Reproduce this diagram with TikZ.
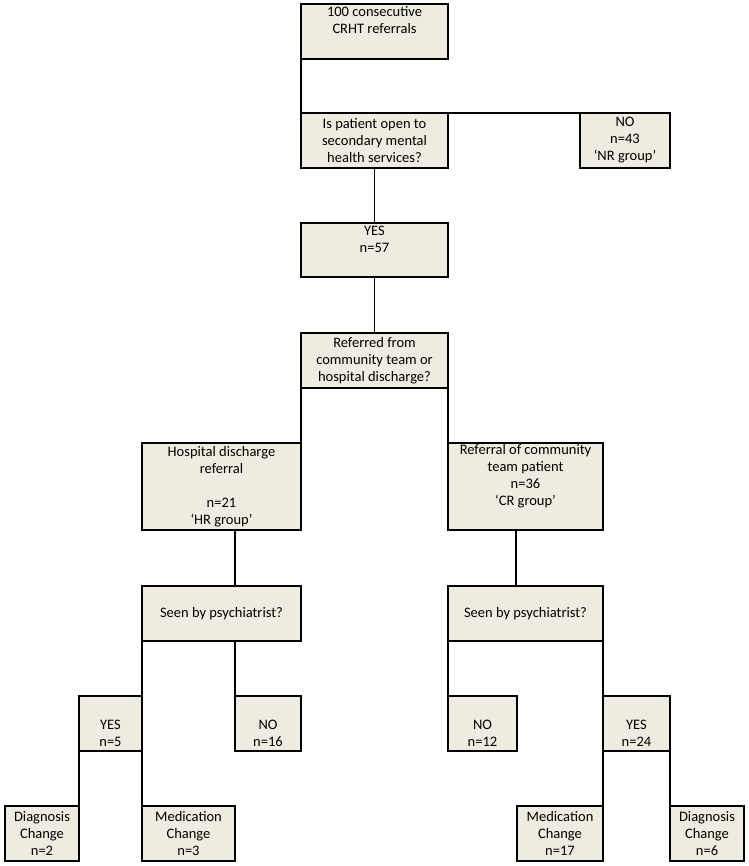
\documentclass[tikz,border=0pt]{standalone}
\usepackage{fontspec}
\setmainfont{Carlito}
\definecolor{boxfill}{HTML}{EEECE1}

\begin{document}
\begin{tikzpicture}[x=1pt, y=-1pt, every node/.style={font=\fontsize{14.5}{17}\selectfont},
    box/.style={rectangle, draw, fill=boxfill, anchor=north west, align=center, inner sep=0pt, outer sep=0pt, line width=1.1pt},
    link/.style={draw, line width=1.1pt}]
    \useasboundingbox (0,0) rectangle (748,866);

    \node[box, minimum width=147pt, minimum height=55pt] (start) at (301,4) {100 consecutive\\CRHT referrals\\\strut};
    \node[box, minimum width=147pt, minimum height=55pt] (open) at (301,113) {Is patient open to\\secondary mental\\health services?};
    \node[box, minimum width=90pt, minimum height=55pt] (nr) at (580,113) {NO\\n=43\\‘NR group’};
    \node[box, minimum width=147pt, minimum height=54pt] (yesopen) at (301,223) {YES\\n=57\\\strut};
    \node[box, minimum width=147pt, minimum height=55pt] (source) at (301,333) {Referred from\\community team or\\hospital discharge?};

    \node[box, minimum width=159pt, minimum height=87pt] (hr) at (142,443) {Hospital discharge\\referral\\\strut\\n=21\\‘HR group’};
    \node[box, minimum width=155pt, minimum height=87pt] (cr) at (448,443) {Referral of community\\team patient\\n=36\\‘CR group’\\\strut};

    \node[box, minimum width=159pt, minimum height=55pt] (seenhr) at (142,586) {Seen by psychiatrist?};
    \node[box, minimum width=155pt, minimum height=55pt] (seencr) at (448,586) {Seen by psychiatrist?};

    % hospital discharge branch
    \node[box, minimum width=63pt, minimum height=55pt] (yeshr) at (79,696) {\strut\\YES\\n=5};
    \node[box, minimum width=66pt, minimum height=55pt] (nohr) at (235,696) {\strut\\NO\\n=16};
    \node[box, minimum width=74pt, minimum height=55pt] (diaghr) at (5,806) {Diagnosis\\Change\\n=2};
    \node[box, minimum width=93pt, minimum height=55pt] (medhr) at (142,806) {Medication\\Change\\n=3};

    % community team branch
    \node[box, minimum width=69pt, minimum height=55pt] (nocr) at (448,696) {\strut\\NO\\n=12};
    \node[box, minimum width=67pt, minimum height=55pt] (yescr) at (603,696) {\strut\\YES\\n=24};
    \node[box, minimum width=86pt, minimum height=55pt] (medcr) at (517,806) {Medication\\Change\\n=17};
    \node[box, minimum width=74pt, minimum height=55pt] (diagcr) at (670,806) {Diagnosis\\Change\\n=6};

    \path[link]
    (start.south west) edge (open.north west)
    (open.north east) edge (nr.north west)
    (open.south) edge (yesopen.north)
    (yesopen.south) edge (source.north)
    (source.south west) edge (hr.north east)
    (source.south east) edge (cr.north west)
    ([xshift=13.5pt]hr.south) edge ([xshift=13.5pt]seenhr.north)
    ([xshift=-9.5pt]cr.south) edge ([xshift=-9.5pt]seencr.north)
    (seenhr.south west) edge (yeshr.north east)
    (nohr.north west |- seenhr.south) edge (nohr.north west)
    (yeshr.south west) edge (diaghr.north east)
    (yeshr.south east) edge (medhr.north west)
    (seencr.south west) edge (nocr.north west)
    (seencr.south east) edge (yescr.north west)
    (yescr.south west) edge (medcr.north east)
    (yescr.south east) edge (diagcr.north west);
\end{tikzpicture}
\end{document}
